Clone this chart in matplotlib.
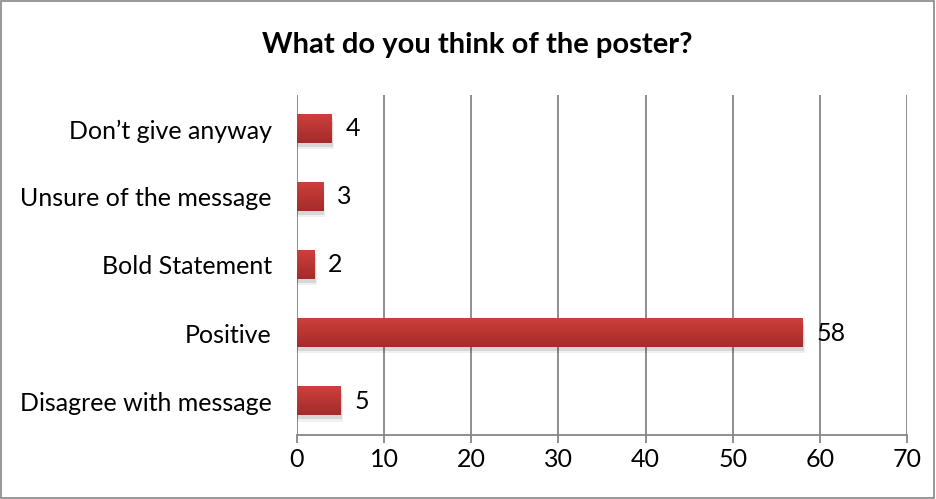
import numpy as np
import matplotlib.pyplot as plt
from matplotlib.colors import LinearSegmentedColormap

categories = ["Disagree with message", "Positive", "Bold Statement",
              "Unsure of the message", "Don\u2019t give anyway"]
counts = [5, 58, 2, 3, 4]
xticks = [0, 10, 20, 30, 40, 50, 60, 70]

plt.rcParams['font.family'] = ['Lato', 'DejaVu Sans']

fig = plt.figure(figsize=(9.36, 4.99), dpi=100)
fig.patches.append(plt.Rectangle((0.001, 0.002), 0.997, 0.996, transform=fig.transFigure,
                                 fill=False, edgecolor='#868686', linewidth=1.2))
ax = fig.add_axes([0.3173, 0.128, 0.6517, 0.682])

grad = LinearSegmentedColormap.from_list('g', ['#a32c2a', '#cd3f3c'])
y = np.arange(len(categories))
bars = ax.barh(y, counts, height=0.42, color='#c0393a', zorder=3)
for b in bars:
    x0, y0, w, h = b.get_x(), b.get_y(), b.get_width(), b.get_height()
    # soft shadow
    for k, a in [(0.05, 0.10), (0.09, 0.06)]:
        ax.add_patch(plt.Rectangle((x0, y0 - k), w + k * 3, h, color='#000000',
                                   alpha=a, zorder=2, linewidth=0))
    ax.imshow(np.linspace(0, 1, 50).reshape(-1, 1), cmap=grad, aspect='auto',
              extent=(x0, x0 + w, y0, y0 + h), origin='lower', zorder=3.5)
    b.set_visible(False)

for yi, v in zip(y, counts):
    ax.text(v + 1.6, yi, str(v), va='center', ha='left', fontsize=18, color='black', zorder=4)

ax.set_xlim(0, 70)
ax.set_ylim(-0.5, len(categories) - 0.5)
ax.set_xticks(xticks)
ax.set_yticks(y)
ax.set_yticklabels(categories, fontsize=18)
ax.tick_params(axis='x', labelsize=18, length=6, color='#868686', width=1.3, pad=3)
ax.tick_params(axis='y', length=0, pad=18)
ax.grid(axis='x', color='#868686', linewidth=1.3, zorder=0)
for s in ['top', 'right', 'left']:
    ax.spines[s].set_visible(False)
ax.spines['bottom'].set_color('#868686')
ax.spines['bottom'].set_linewidth(1.3)

fig.text(0.51, 0.91, "What do you think of the poster?", ha='center', va='center',
         fontsize=21, fontweight='bold')

fig.savefig('out.png', dpi=100)
